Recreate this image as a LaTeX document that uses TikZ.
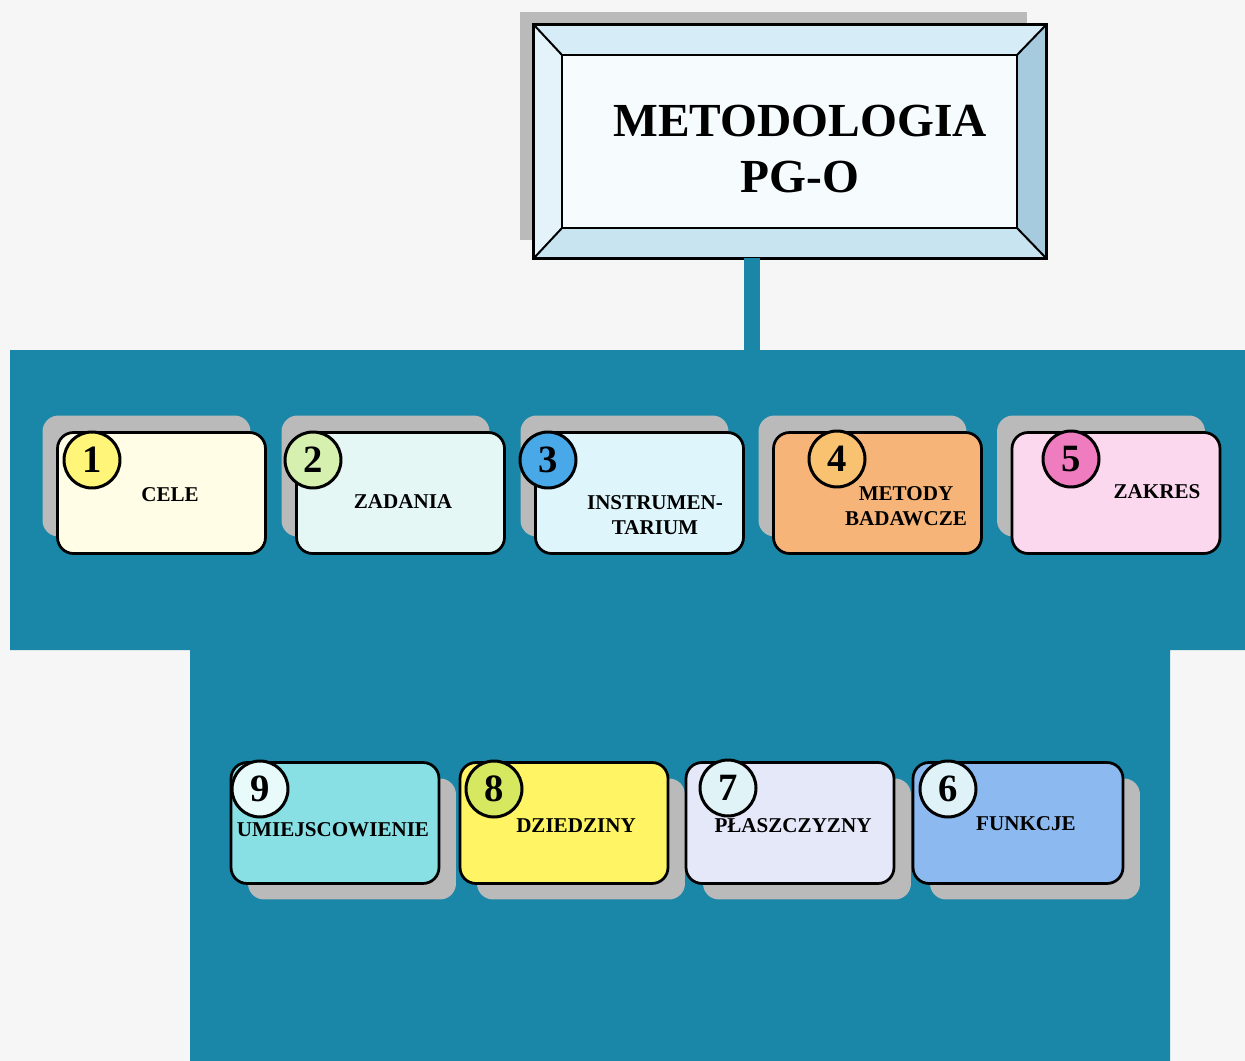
\documentclass[tikz,border=0pt]{standalone}
\usepackage{fontspec}
\setmainfont{Liberation Serif}
\usetikzlibrary{shadows}
\definecolor{pagebg}{RGB}{246,246,246}
\definecolor{bluebg}{RGB}{26,135,168}
\definecolor{shadowgray}{RGB}{186,186,186}
\definecolor{bevtop}{RGB}{214,236,246}
\definecolor{bevleft}{RGB}{228,243,250}
\definecolor{bevright}{RGB}{166,203,222}
\definecolor{bevbot}{RGB}{200,228,240}
\definecolor{innerfill}{RGB}{246,252,254}
\definecolor{fa}{RGB}{255,253,230}\definecolor{ca}{RGB}{255,245,120}
\definecolor{fb}{RGB}{228,247,245}\definecolor{cb}{RGB}{214,240,176}
\definecolor{fc}{RGB}{222,245,252}\definecolor{cc}{RGB}{72,168,232}
\definecolor{fd}{RGB}{246,180,120}\definecolor{cd}{RGB}{248,194,112}
\definecolor{fe}{RGB}{251,216,238}\definecolor{ce}{RGB}{238,124,190}
\definecolor{ff}{RGB}{140,186,240}\definecolor{cf}{RGB}{222,242,248}
\definecolor{fg}{RGB}{228,232,248}\definecolor{cg}{RGB}{224,244,248}
\definecolor{fh}{RGB}{254,244,100}\definecolor{ch}{RGB}{214,232,96}
\definecolor{fi}{RGB}{136,224,228}\definecolor{ci}{RGB}{232,251,250}
\begin{document}
\begin{tikzpicture}[x=0.02cm,y=-0.02cm,
  box/.style={draw=black, line width=0.055cm, rounded corners=0.32cm,
    minimum width=4.16cm, minimum height=2.42cm, inner sep=0pt},
  topshadow/.style={general shadow={fill=shadowgray, shadow xshift=-0.3cm, shadow yshift=0.34cm}},
  botshadow/.style={general shadow={fill=shadowgray, shadow xshift=0.34cm, shadow yshift=-0.32cm}},
  num/.style={circle, draw=black, line width=0.06cm, minimum size=1.12cm, inner sep=0pt,
    font=\fontsize{22}{22}\selectfont\bfseries},
  lbl/.style={font=\fontsize{12}{14.5}\selectfont\bfseries, align=center, inner sep=0pt},
  stem/.style={draw=bluebg, line width=0.32cm}]
\fill[pagebg] (0,0) rectangle (1245,1061);
\useasboundingbox (0,0) rectangle (1245,1061);
% blue field
\fill[bluebg] (10,350) -- (1245,350) -- (1245,650) -- (1170,650) -- (1170,1061)
  -- (190,1061) -- (190,650) -- (10,650) -- cycle;
% title
\fill[shadowgray] (520,12) rectangle (1027,240);
\node[draw=black, line width=0.06cm, minimum width=10.2cm, minimum height=4.62cm, inner sep=0pt] (title) at (790,141.5) {};
\node[minimum width=9.1cm, minimum height=3.46cm, inner sep=0pt] (inner) at (789.5,141.5) {};
\fill[bevtop] (title.north west) -- (title.north east) -- (inner.north east) -- (inner.north west) -- cycle;
\fill[bevright] (title.north east) -- (title.south east) -- (inner.south east) -- (inner.north east) -- cycle;
\fill[bevbot] (title.south west) -- (title.south east) -- (inner.south east) -- (inner.south west) -- cycle;
\fill[bevleft] (title.north west) -- (title.south west) -- (inner.south west) -- (inner.north west) -- cycle;
\fill[innerfill] (inner.north west) rectangle (inner.south east);
\draw[line width=0.06cm] (title.north west) rectangle (title.south east);
\draw[line width=0.045cm] (inner.north west) rectangle (inner.south east);
\draw[line width=0.04cm] (title.north west) -- (inner.north west)
  (title.north east) -- (inner.north east)
  (title.south west) -- (inner.south west)
  (title.south east) -- (inner.south east);
\node[font=\fontsize{27}{32}\selectfont\bfseries, align=center, inner sep=0pt] (titletext) at (800,149) {METODOLOGIA\\PG-O};
% stem
\coordinate (stemend) at (752,352);
\draw[stem] (title.south -| stemend) -- (stemend);
% top row
\node[box, topshadow, fill=fa] (b1) at (161.5,493) {};
\node[box, topshadow, fill=fb] (b2) at (400.5,493) {};
\node[box, topshadow, fill=fc] (b3) at (639.5,493) {};
\node[box, topshadow, fill=fd] (b4) at (877.5,493) {};
\node[box, topshadow, fill=fe] (b5) at (1116,493) {};
\node[num, fill=ca] (n1) at (92,460) {1};
\node[num, fill=cb] (n2) at (313,460) {2};
\node[num, fill=cc] (n3) at (548,460) {3};
\node[num, fill=cd] (n4) at (837,459) {4};
\node[num, fill=ce] (n5) at (1071,459) {5};
\node[lbl] (t1) at (170,495) {CELE};
\node[lbl] (t2) at (403,502) {ZADANIA};
\node[lbl] (t3) at (655,515) {INSTRUMEN-\\TARIUM};
\node[lbl] (t4) at (906,506) {METODY\\BADAWCZE};
\node[lbl] (t5) at (1157,492) {ZAKRES};
% bottom row
\node[box, botshadow, fill=fi] (b9) at (335,823) {};
\node[box, botshadow, fill=fh] (b8) at (564,823) {};
\node[box, botshadow, fill=fg] (b7) at (790,823) {};
\node[box, botshadow, fill=ff, minimum width=4.2cm] (b6) at (1018,823) {};
\node[num, fill=ci] (n9) at (260,789) {9};
\node[num, fill=ch] (n8) at (494,789) {8};
\node[num, fill=cg] (n7) at (728,788) {7};
\node[num, fill=cf] (n6) at (948,789) {6};
\node[lbl] (t9) at (333,830) {UMIEJSCOWIENIE};
\node[lbl] (t8) at (576,826) {DZIEDZINY};
\node[lbl] (t7) at (793,826) {PŁASZCZYZNY};
\node[lbl] (t6) at (1026,824) {FUNKCJE};
\end{tikzpicture}
\end{document}
